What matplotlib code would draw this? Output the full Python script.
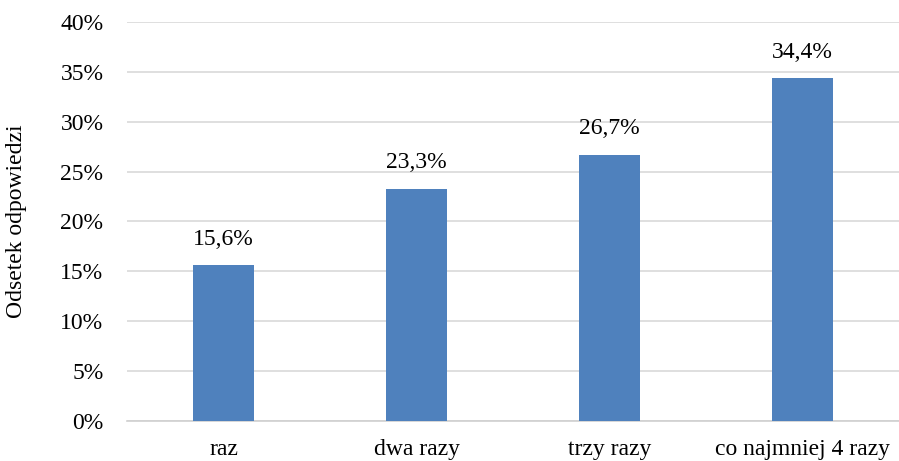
import matplotlib.pyplot as plt
from matplotlib.ticker import FuncFormatter

categories = ["raz", "dwa razy", "trzy razy", "co najmniej 4 razy"]
values = [15.6, 23.3, 26.7, 34.4]
y_ticks = [0, 5, 10, 15, 20, 25, 30, 35, 40]

BAR_COLOR = "#4F81BD"
GRID_COLOR = "#D9D9D9"

plt.rcParams["font.family"] = ["Liberation Serif", "DejaVu Serif"]
plt.rcParams["font.size"] = 17

fig = plt.figure(figsize=(8.99, 4.61), dpi=100)
ax = fig.add_axes([0.1413, 0.0868, 0.8587, 0.8655])

x = list(range(len(categories)))
bars = ax.bar(x, values, width=0.316, color=BAR_COLOR, zorder=3)

for xi, v in zip(x, values):
    ax.annotate(f"{v:.1f}%".replace(".", ","), (xi, v),
                xytext=(0, 11), textcoords="offset points",
                ha="center", va="bottom", color="#000000")

ax.set_xlim(-0.5, len(categories) - 0.5)
ax.set_ylim(0, 40)
ax.set_xticks(x)
ax.set_xticklabels(categories)
ax.set_yticks(y_ticks)
ax.yaxis.set_major_formatter(FuncFormatter(lambda v, p: f"{v:.0f}%"))
ax.tick_params(axis="both", length=0, colors="#000000")
ax.tick_params(axis="y", pad=17)
ax.tick_params(axis="x", pad=13)

ax.grid(True, axis="y", color=GRID_COLOR, linewidth=1.2, zorder=0)
for side in ["left", "right", "top"]:
    ax.spines[side].set_visible(False)
ax.spines["bottom"].set_color("#D0D0D0")
ax.spines["bottom"].set_linewidth(1.2)

ax.set_ylabel("Odsetek odpowiedzi")
ax.yaxis.set_label_coords(-0.129, 0.5)

fig.savefig("out.png", dpi=100)
